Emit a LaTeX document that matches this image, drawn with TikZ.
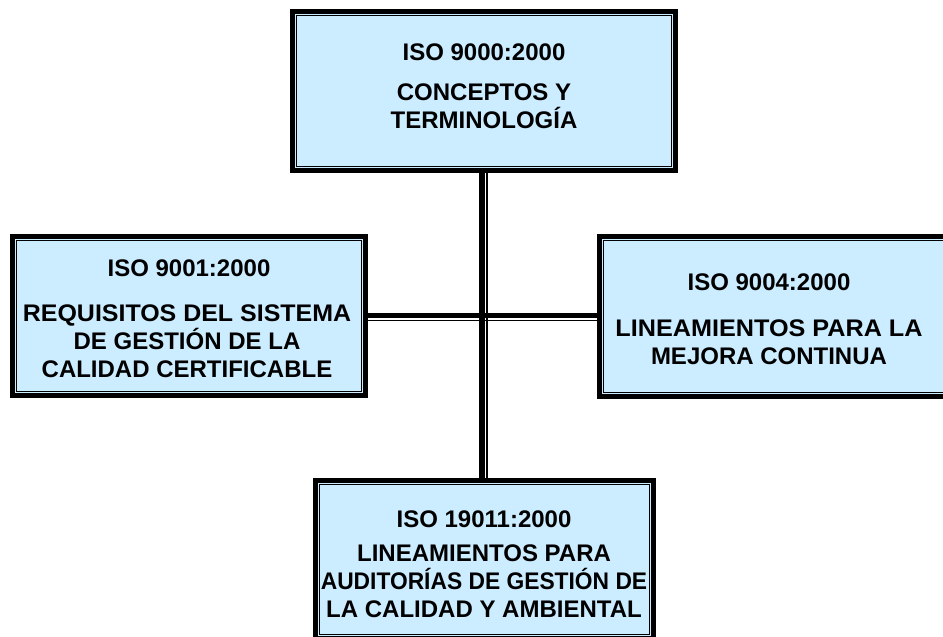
\documentclass[tikz,border=0pt]{standalone}
\usepackage{fontspec}
\usepackage{graphicx}
\setmainfont{Liberation Sans}
\usetikzlibrary{backgrounds}
\definecolor{boxfill}{HTML}{CCECFF}
\begin{document}
\begin{tikzpicture}[x=0.75pt,y=-0.75pt,
  box/.style={draw=black, line width=3.75pt, fill=boxfill, rectangle, inner sep=0pt, outer sep=0pt},
  thinrule/.style={draw=black, line width=0.9pt},
  txt/.style={font=\bfseries\fontsize{18pt}{21pt}\selectfont, align=center, inner sep=0pt},
  thickconn/.style={draw=black, line width=4.5pt},
  thickconnh/.style={draw=black, line width=3.75pt},
  thinconn/.style={draw=black, line width=0.9pt}]
\useasboundingbox (0,0) rectangle (943,636);
\clip (0,0) rectangle (943,636);
% boxes
\node[box, minimum width=287.25pt, minimum height=119.25pt] (top) at (484,91) {};
\node[box, minimum width=264.75pt, minimum height=119.25pt] (left) at (189,316) {};
\node[box, minimum width=262.875pt, minimum height=120pt] (right) at (774.75,316.5) {};
\node[box, minimum width=253.5pt, minimum height=118.5pt] (bot) at (484.5,559.5) {};
% inner thin frames
\foreach \b in {top,left,right,bot}{
  \draw[thinrule] ([shift={(4.2,4.2)}]\b.north west) rectangle ([shift={(-4.2,-4.2)}]\b.south east);
}
% connectors
\begin{scope}[on background layer]
\draw[thickconn] ([xshift=-1.5pt]top.south) -- ([xshift=-1.5pt]top.south |- bot.north);
\draw[thinconn] ([xshift=2.25pt]top.south) -- ([xshift=2.25pt]top.south |- bot.north);
\draw[thickconnh] ([yshift=0.375pt]left.east) -- ([yshift=0.375pt]left.east -| right.west);
\draw[thinconn] ([yshift=-3.375pt]left.east) -- ([yshift=-3.375pt]left.east -| right.west);
\end{scope}
% texts
\node[txt] (t1) at (484,52) {ISO 9000:2000};
\node[txt] (t2) at (484,106) {CONCEPTOS Y\\TERMINOLOGÍA};
\node[txt] (l1) at (189,268) {ISO 9001:2000};
\node[txt] (l2) at (187,341) {\scalebox{1.04}[1]{REQUISITOS DEL SISTEMA}\\DE GESTIÓN DE LA\\CALIDAD CERTIFICABLE};
\node[txt] (r1) at (769,282) {ISO 9004:2000};
\node[txt] (r2) at (769,342) {\scalebox{1.05}[1]{LINEAMIENTOS PARA LA}\\MEJORA CONTINUA};
\node[txt] (b1) at (484,519) {ISO 19011:2000};
\node[txt] (b2) at (484,581) {LINEAMIENTOS PARA\\\scalebox{0.95}[1]{AUDITORÍAS DE GESTIÓN DE}\\LA CALIDAD Y AMBIENTAL};
\end{tikzpicture}
\end{document}
